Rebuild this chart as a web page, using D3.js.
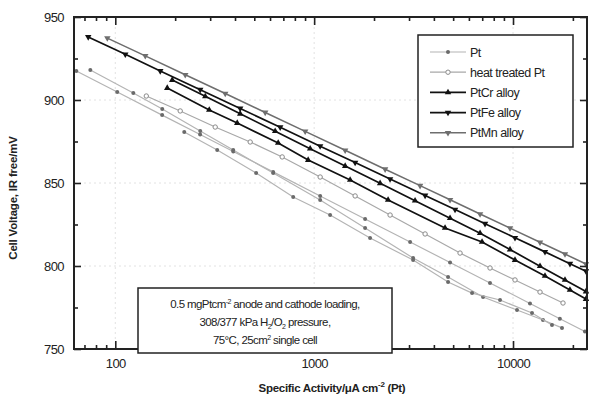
<!DOCTYPE html>
<html><head><meta charset="utf-8">
<script src="https://cdn.jsdelivr.net/npm/d3@7"></script>
<style>
body{margin:0;background:#fff;}
svg{display:block;font-family:"Liberation Sans",Arial,sans-serif;}
</style></head>
<body><svg id="c" width="589" height="403"></svg>
<script>
// ---- data (specific activity μA cm-2, cell voltage mV) ----
const xDomain = [62, 23550];
const yDomain = [750, 950];
const xTickLabels = [100, 1000, 10000];
const yTickLabels = [750, 800, 850, 900, 950];
const yMinorTicks = [775, 825, 875, 925];
const legendLabels = ["Pt", "heat treated Pt", "PtCr alloy", "PtFe alloy", "PtMn alloy"];

const ptRun1 = [[63.7,917.5],[102.3,904.8],[172,890.9],[267,879.2],[392,869.0],[622,856.7],[1072,842.2],[1804,828.3],[3037,814.5],[4823,802.1],[7660,789.8],[12170,777.4],[17200,768.2],[23000,760.5]];
const ptRun2 = [[74.9,918.1],[123.2,904.2],[172.3,894.6],[267.4,881.3],[391.7,869.9],[622.3,856.0],[1072,839.8],[1804,822.9],[3145,804.8],[4714,793.4],[7068,781.3],[10473,773.5],[14150,767.5],[17630,762.7]];
const ptRun3 = [[222.2,880.7],[325.5,869.9],[510.9,856.0],[784.6,841.6],[1203,830.7],[1911,816.9],[3145,803.6],[4714,790.4],[6223,783.7],[8604,779.5],[12460,771.7],[15700,764.5]];
const htPtRun1 = [[143.2,902.4],[212.1,893.4],[318,883.7],[476.8,874.7],[690.6,865.7],[1072,853.6],[1607,842.2],[2409,830.7],[3613,819.3],[5415,807.8],[7663,798.8],[10233,791.6],[13670,784.3],[17840,777.7]];
const ptCrRun1 = [[182.5,907.2],[296.8,894.0],[410.3,886.1],[659.4,874.1],[932.8,863.8],[1517,851.8],[2354,839.8],[4552,822.9],[6987,814.5],[10233,803.6],[14478,794.0],[19335,785.6],[23270,780.1]];
const ptCrRun2 = [[193.4,912.0],[283.4,902.2],[424.8,891.7],[636.8,881.2],[954.8,870.7],[1432,860.2],[2146,849.8],[3217,839.3],[4824,828.8],[6828,819.8],[9659,809.9],[13670,799.9],[18250,791.6],[23270,784.6]];
const ptFeRun1 = [[73.1,938.0],[112.3,927.5],[168.3,917.5],[267.4,906.2],[424.8,894.9],[674.8,883.6],[1072,872.2],[1607,862.3],[2409,852.4],[3613,842.5],[5111,834.0],[7233,825.5],[10233,817.0],[14478,808.5],[19335,801.4],[23270,796.9]];
const ptMnRun1 = [[91.2,937.3],[141.5,926.6],[224.8,915.2],[357.2,903.9],[567.4,892.5],[901.3,881.1],[1432,869.7],[2274,858.3],[3409,848.4],[4824,839.9],[6828,831.3],[9659,822.8],[13670,814.3],[18250,807.2],[23270,801.2]];

// ---- styles ----
const styles = {
  pt:   {line:"#b4b4b4", lw:1.2, marker:"dot",    mfill:"#6a6a6a", mstroke:"#6a6a6a"},
  ht:   {line:"#a8a8a8", lw:1.2, marker:"circle", mfill:"#fff",    mstroke:"#8a8a8a"},
  cr:   {line:"#111",    lw:1.7, marker:"tri",    mfill:"#111",    mstroke:"#111"},
  fe:   {line:"#111",    lw:1.7, marker:"tridown",mfill:"#111",    mstroke:"#111"},
  mn:   {line:"#6e6e6e", lw:1.5, marker:"tridown",mfill:"#6e6e6e", mstroke:"#6e6e6e"}
};
const series = [
  {data:ptRun1, s:styles.pt}, {data:ptRun2, s:styles.pt}, {data:ptRun3, s:styles.pt},
  {data:htPtRun1, s:styles.ht},
  {data:ptMnRun1, s:styles.mn},
  {data:ptCrRun1, s:styles.cr}, {data:ptCrRun2, s:styles.cr},
  {data:ptFeRun1, s:styles.fe}
];
const legendStyles = [styles.pt, styles.ht, styles.cr, styles.fe, styles.mn];

const L = 74, R = 587, T = 17, B = 349;
const svg = d3.select("#c");
const x = d3.scaleLog().domain(xDomain).range([L, R]);
const y = d3.scaleLinear().domain(yDomain).range([B, T]);

// faint grid
svg.append("g").selectAll("line").data(xTickLabels).join("line")
  .attr("x1", d => x(d)).attr("x2", d => x(d)).attr("y1", T).attr("y2", B)
  .attr("stroke", "#e2e2e2").attr("stroke-dasharray", "2,3").attr("stroke-width", 1);
svg.append("g").selectAll("line").data(yTickLabels.slice(1, -1)).join("line")
  .attr("x1", L).attr("x2", R).attr("y1", d => y(d)).attr("y2", d => y(d))
  .attr("stroke", "#e2e2e2").attr("stroke-dasharray", "2,3").attr("stroke-width", 1);

function marker(g, sty, px, py) {
  if (sty.marker === "dot") {
    g.append("circle").attr("cx", px).attr("cy", py).attr("r", 2).attr("fill", sty.mfill);
  } else if (sty.marker === "circle") {
    g.append("circle").attr("cx", px).attr("cy", py).attr("r", 2.2)
      .attr("fill", sty.mfill).attr("stroke", sty.mstroke).attr("stroke-width", 1);
  } else {
    const rot = sty.marker === "tridown" ? 180 : 0;
    g.append("path").attr("d", d3.symbol().type(d3.symbolTriangle).size(18)())
      .attr("transform", `translate(${px},${py}) rotate(${rot})`)
      .attr("fill", sty.mfill);
  }
}

const plot = svg.append("g");
const line = d3.line().x(d => x(d[0])).y(d => y(d[1]));
series.forEach(sr => {
  plot.append("path").datum(sr.data).attr("d", line)
    .attr("fill", "none").attr("stroke", sr.s.line).attr("stroke-width", sr.s.lw);
  sr.data.forEach(d => marker(plot, sr.s, x(d[0]), y(d[1])));
});

// axes (ticks inward)
const minorX = [70, 80, 90];
for (let dec = 100; dec <= 10000; dec *= 10) for (let k = 2; k <= 9; k++) if (dec * k <= xDomain[1]) minorX.push(dec * k);
const axB = d3.axisBottom(x).tickValues(xTickLabels).tickFormat(d3.format("d")).tickSizeInner(-8).tickSizeOuter(0).tickPadding(10);
const gB = svg.append("g").attr("transform", `translate(0,${B})`).call(axB);
const gBm = svg.append("g").attr("transform", `translate(0,${B})`).call(d3.axisBottom(x).tickValues(minorX).tickFormat("").tickSizeInner(-4).tickSizeOuter(0));
const gT = svg.append("g").attr("transform", `translate(0,${T})`).call(d3.axisTop(x).tickValues(xTickLabels).tickFormat("").tickSizeInner(-8).tickSizeOuter(0));
const gTm = svg.append("g").attr("transform", `translate(0,${T})`).call(d3.axisTop(x).tickValues(minorX).tickFormat("").tickSizeInner(-4).tickSizeOuter(0));
const gL = svg.append("g").attr("transform", `translate(${L},0)`).call(d3.axisLeft(y).tickValues(yTickLabels).tickFormat(d3.format("d")).tickSizeInner(-7).tickSizeOuter(0).tickPadding(10));
const gLm = svg.append("g").attr("transform", `translate(${L},0)`).call(d3.axisLeft(y).tickValues(yMinorTicks).tickFormat("").tickSizeInner(-4).tickSizeOuter(0));
const gR = svg.append("g").attr("transform", `translate(${R},0)`).call(d3.axisRight(y).tickValues(yTickLabels).tickFormat("").tickSizeInner(-7).tickSizeOuter(0));
const gRm = svg.append("g").attr("transform", `translate(${R},0)`).call(d3.axisRight(y).tickValues(yMinorTicks).tickFormat("").tickSizeInner(-4).tickSizeOuter(0));
[gB, gBm, gT, gTm, gL, gLm, gR, gRm].forEach(g => {
  g.select(".domain").remove();
  g.selectAll(".tick line").attr("stroke", "#222").attr("stroke-width", 1.6);
  g.selectAll("text").attr("font-size", 13).attr("fill", "#222")
    .attr("font-family", "'Liberation Sans',Arial,sans-serif").attr("letter-spacing", "-0.6");
});
// frame
svg.append("rect").attr("x", L).attr("y", T).attr("width", R - L).attr("height", B - T)
  .attr("fill", "none").attr("stroke", "#222").attr("stroke-width", 2);

// axis titles
svg.append("text").attr("x", 332).attr("y", 392).attr("text-anchor", "middle")
  .attr("font-size", 11.5).attr("font-weight", "bold").attr("fill", "#222").attr("letter-spacing", "-0.3")
  .html('Specific Activity/μA cm<tspan dy="-5" font-size="8">-2</tspan><tspan dy="5"> (Pt)</tspan>');
svg.append("text").attr("transform", "translate(17,198) rotate(-90)").attr("text-anchor", "middle")
  .attr("font-size", 11.5).attr("font-weight", "bold").attr("fill", "#222").attr("letter-spacing", "-0.2")
  .text("Cell Voltage, IR free/mV");

// legend
const lg = svg.append("g");
lg.append("rect").attr("x", 418).attr("y", 35).attr("width", 155).attr("height", 112)
  .attr("fill", "#fff").attr("stroke", "#222").attr("stroke-width", 1.5);
legendLabels.forEach((lab, i) => {
  const yy = 52 + i * 20.2;
  const sty = legendStyles[i];
  lg.append("line").attr("x1", 430).attr("x2", 466).attr("y1", yy).attr("y2", yy)
    .attr("stroke", sty.line).attr("stroke-width", sty.lw);
  marker(lg, sty, 448, yy);
  lg.append("text").attr("x", 470).attr("y", yy + 4.5).attr("font-size", 12.5)
    .attr("fill", "#222").attr("letter-spacing", "-0.5").text(lab);
});

// annotation box
const ab = svg.append("g");
ab.append("rect").attr("x", 138).attr("y", 288).attr("width", 254).attr("height", 65)
  .attr("fill", "#fff").attr("stroke", "#222").attr("stroke-width", 1.5);
const at = (yy) => ab.append("text").attr("x", 265).attr("y", yy).attr("text-anchor", "middle")
  .attr("font-size", 11.5).attr("fill", "#222").attr("letter-spacing", "-0.6");
at(308).html('0.5 mgPtcm<tspan dy="-4" font-size="7">-2</tspan><tspan dy="4"> anode and cathode loading,</tspan>');
at(326).html('308/377 kPa H<tspan dy="3" font-size="7">2</tspan><tspan dy="-3">/O</tspan><tspan dy="3" font-size="7">2</tspan><tspan dy="-3"> pressure,</tspan>');
at(344).html('75°C, 25cm<tspan dy="-4" font-size="7">2</tspan><tspan dy="4"> single cell</tspan>');
</script></body></html>
